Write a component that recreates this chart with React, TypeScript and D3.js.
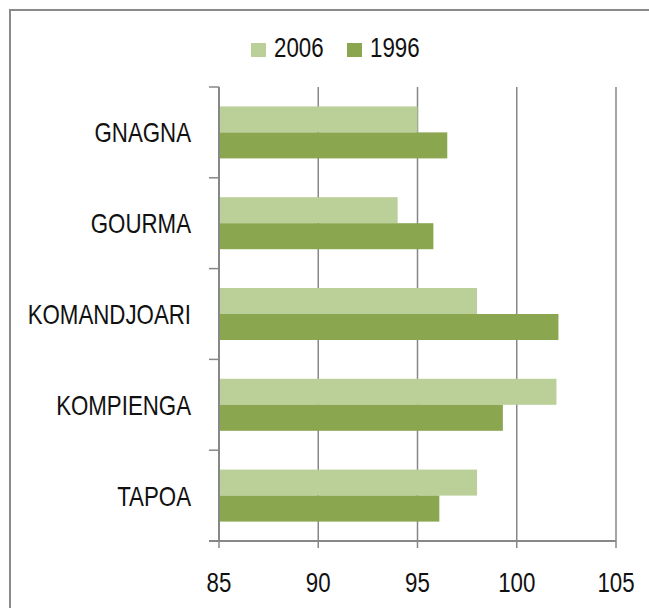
import React from "react";
import * as d3 from "d3";

const categories = ["GNAGNA", "GOURMA", "KOMANDJOARI", "KOMPIENGA", "TAPOA"];
const seriesNames = ["2006", "1996"];
const values2006 = [95.0, 94.0, 98.0, 102.0, 98.0];
const values1996 = [96.5, 95.8, 102.1, 99.3, 96.1];
const xTicks = [85, 90, 95, 100, 105];
const colors = ["#BBCF99", "#8AA64F"];

const W = 649;
const H = 608;
const FONT = "'Liberation Sans', Arial, sans-serif";
const FS = 27.5;
const SX = 0.81;
const AXIS = "#878787";

export default function App() {
  const x = d3.scaleLinear().domain([85, 105]).range([219, 616]);
  const y0 = d3.scaleBand<string>().domain(categories).range([87, 541]).padding(0);
  const y1 = d3
    .scaleBand<string>()
    .domain(seriesNames)
    .range([0, y0.bandwidth()])
    .paddingInner(0)
    .paddingOuter(0.746);
  const seriesValues = [values2006, values1996];
  const bounds = [87, ...categories.map((c) => (y0(c) as number) + y0.bandwidth())];

  const sText = (tx: number, ty: number, txt: string, anchor: string, key?: string) => (
    <g key={key} transform={`translate(${tx},${ty}) scale(${SX},1)`}>
      <text x={0} y={0} textAnchor={anchor} fontFamily={FONT} fontSize={FS} fill="#111">
        {txt}
      </text>
    </g>
  );

  return (
    <svg
      width={W}
      height={H}
      style={{ position: "absolute", left: 0, top: 0, background: "#fff" }}
    >
      <rect x={0} y={0} width={W} height={H} fill="#fff" />
      <rect x={10} y={10} width={W + 20} height={H + 20} fill="none" stroke="#8a8a8a" strokeWidth={2} />

      {/* gridlines */}
      {xTicks.slice(1).map((t) => (
        <line key={"g" + t} x1={x(t)} x2={x(t)} y1={87} y2={541} stroke={AXIS} strokeWidth={1.5} />
      ))}

      {/* bars */}
      {categories.map((c, i) =>
        seriesNames.map((s, j) => {
          const by = (y0(c) as number) + (y1(s) as number);
          return (
            <rect
              key={c + s}
              x={x(85)}
              y={by}
              width={x(seriesValues[j][i]) - x(85)}
              height={y1.bandwidth()}
              fill={colors[j]}
            />
          );
        })
      )}

      {/* vertical category axis */}
      <line x1={219} x2={219} y1={87} y2={541} stroke={AXIS} strokeWidth={2} />
      {bounds.map((b, i) => (
        <line key={"ct" + i} x1={209} x2={219} y1={b} y2={b} stroke={AXIS} strokeWidth={1.5} />
      ))}

      {/* horizontal value axis */}
      <line x1={209} x2={x(105)} y1={541} y2={541} stroke={AXIS} strokeWidth={2} />
      {xTicks.map((t) => (
        <line key={"xt" + t} x1={x(t)} x2={x(t)} y1={541} y2={548} stroke={AXIS} strokeWidth={1.5} />
      ))}
      {xTicks.map((t) => sText(x(t), 592, String(t), "middle", "xl" + t))}

      {/* category labels */}
      {categories.map((c) =>
        sText(191, (y0(c) as number) + y0.bandwidth() / 2 + 10, c, "end", "cl" + c)
      )}

      {/* legend */}
      <rect x={251} y={43} width={15} height={14} fill={colors[0]} />
      {sText(274, 57, seriesNames[0], "start", "lg0")}
      <rect x={347} y={43} width={15} height={14} fill={colors[1]} />
      {sText(370, 57, seriesNames[1], "start", "lg1")}
    </svg>
  );
}
